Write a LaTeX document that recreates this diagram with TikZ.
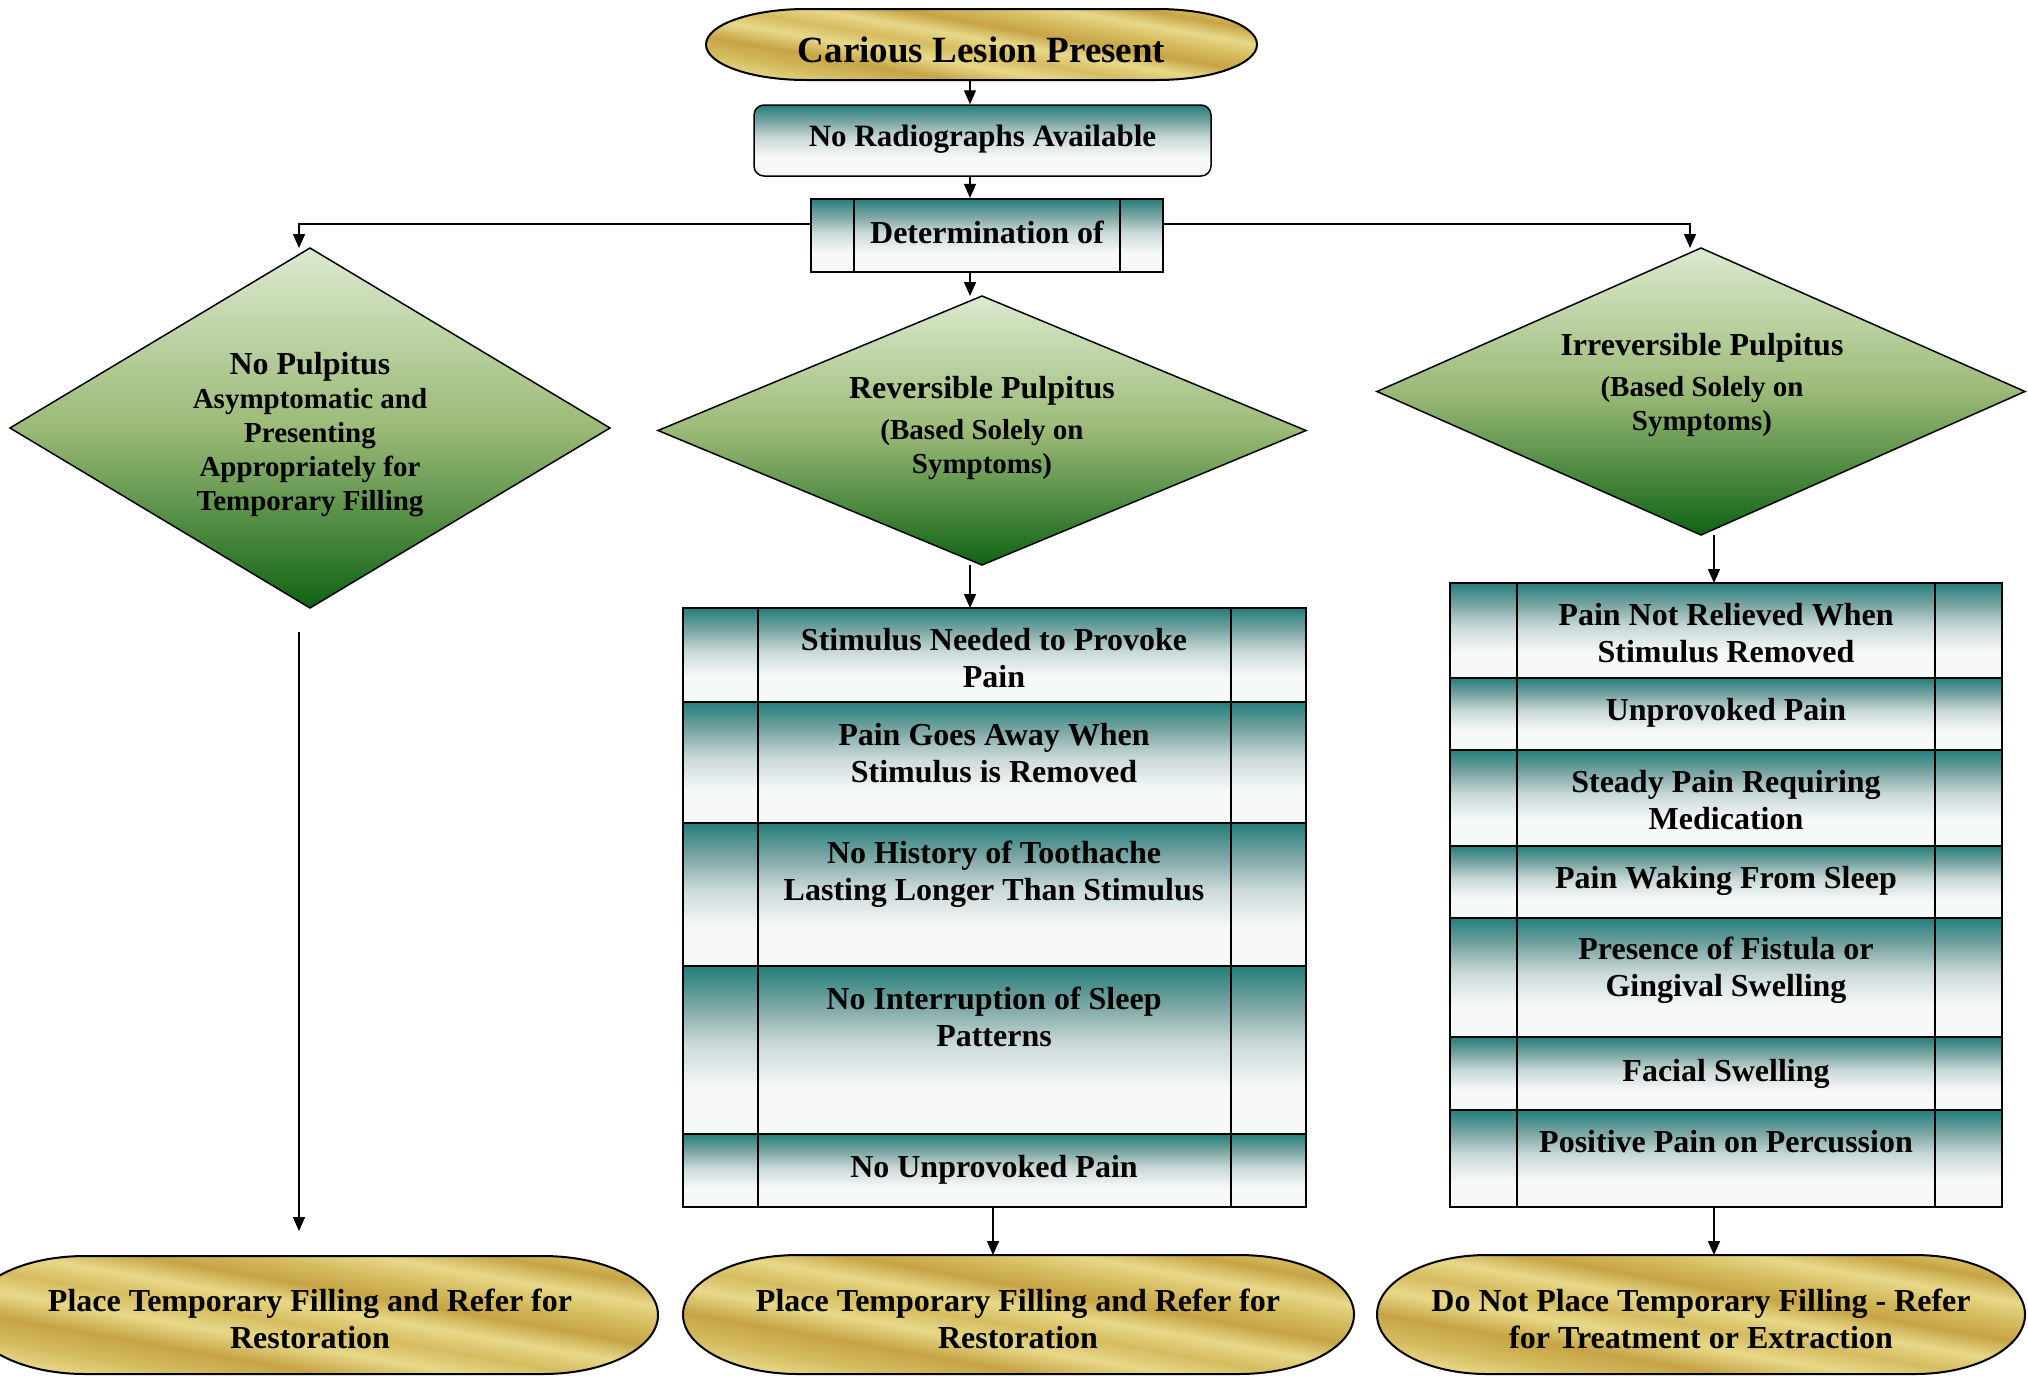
\documentclass[tikz,border=0pt]{standalone}
\usepackage{fontspec}
\setmainfont{Liberation Serif}
\usetikzlibrary{arrows.meta,calc}
\definecolor{tealtop}{HTML}{237E7A}
\definecolor{tealmid}{HTML}{7DA7A5}
\definecolor{tealmidb}{HTML}{C9D9D8}
\definecolor{tealbot}{HTML}{F7F9F9}
\definecolor{gtop}{HTML}{DCE9CF}
\definecolor{gmid}{HTML}{9BBA77}
\definecolor{gbot}{HTML}{0F6314}
\definecolor{goldA}{HTML}{C6A445}
\definecolor{goldB}{HTML}{E7D889}
\definecolor{goldC}{HTML}{D5BC60}
\pgfdeclareverticalshading{tealsh}{100bp}{color(0bp)=(tealbot); color(25bp)=(tealbot); color(38bp)=(tealbot); color(52bp)=(tealmidb); color(63bp)=(tealmid); color(75bp)=(tealtop); color(100bp)=(tealtop)}
\pgfdeclareverticalshading{greensh}{100bp}{color(0bp)=(gbot); color(25bp)=(gbot); color(50bp)=(gmid); color(75bp)=(gtop); color(100bp)=(gtop)}
\pgfdeclarehorizontalshading{goldsh}{100bp}{color(0bp)=(goldB); color(25bp)=(goldB); color(30bp)=(goldC); color(36bp)=(goldA); color(42bp)=(goldB); color(47bp)=(goldC); color(52bp)=(goldB); color(57bp)=(goldA); color(62bp)=(goldC); color(67bp)=(goldB); color(72bp)=(goldA); color(75bp)=(goldC); color(100bp)=(goldC)}
\pgfdeclarelayer{bg}
\pgfsetlayers{bg,main}
\newcommand\termshape[3]{%
  \path[draw=black, line width=2pt, shading=goldsh, shading angle=80]
   ($(#1.north west)+(#2,0)$) -- ($(#1.north east)+(-#2,0)$)
   arc[start angle=90, end angle=-90, x radius=#2 pt, y radius=#3 pt]
   -- ($(#1.south west)+(#2,0)$)
   arc[start angle=270, end angle=90, x radius=#2 pt, y radius=#3 pt] -- cycle;}
\newcommand\diashape[1]{%
  \path[draw=black, line width=1.5pt, shading=greensh]
   (#1.north) -- (#1.east) -- (#1.south) -- (#1.west) -- cycle;}
\begin{document}
\begin{tikzpicture}[x=1pt,y=1pt,
  txt/.style={font=\bfseries\fontsize{32}{37}\selectfont, align=center, inner sep=0},
  stxt/.style={font=\bfseries\fontsize{29}{34}\selectfont, align=center, inner sep=0},
  frame/.style={inner sep=0, outer sep=0},
  rowbox/.style={draw=black, line width=2.2pt, shading=tealsh, inner sep=0, outer sep=0, anchor=north west},
  tline/.style={line width=2.2pt},
  arr/.style={-{Triangle[length=14pt,width=12pt]}, line width=1.4pt},
  plain/.style={line width=1.3pt}]
\useasboundingbox (0,0) rectangle (2028,-1376);

% top terminal
\node[frame, minimum width=551pt, minimum height=71pt] (top) at (981.5,-44.5) {};
\node[font=\bfseries\fontsize{37}{42}\selectfont, inner sep=0] (toptxt) at (981.5,-50) {Carious Lesion Present};

% no radiographs
\node[draw=black, line width=1.5pt, rounded corners=10pt, shading=tealsh, minimum width=457pt, minimum height=71pt, inner sep=0] (radio) at (982.5,-140.5) {};
\node[font=\bfseries\fontsize{31}{36}\selectfont, inner sep=0] (radiotxt) at (982.5,-139.5) {No Radiographs Available};

% determination
\node[draw=black, line width=2.2pt, shading=tealsh, minimum width=352pt, minimum height=73pt, inner sep=0] (det) at (987,-235.5) {};
\draw[tline] (854,-199) -- (854,-272);
\draw[tline] (1120,-199) -- (1120,-272);
\node[txt] (dettxt) at (987,-232) {Determination of};

% diamonds
\node[frame, minimum width=600pt, minimum height=360pt] (d1) at (310,-428) {};
\node[frame, minimum width=648pt, minimum height=269pt] (d2) at (982,-430.5) {};
\node[frame, minimum width=648pt, minimum height=287pt] (d3) at (1701,-391.5) {};
\node[stxt] (d1t) at (310,-435) {{\fontsize{32}{37}\selectfont No Pulpitus}\\Asymptomatic and\\Presenting\\Appropriately for\\Temporary Filling};
\node[stxt] (d2t) at (982,-428) {{\fontsize{32}{37}\selectfont Reversible Pulpitus}\\[7pt](Based Solely on\\Symptoms)};
\node[stxt] (d3t) at (1702,-385.5) {{\fontsize{32}{37}\selectfont Irreversible Pulpitus}\\[7pt](Based Solely on\\Symptoms)};

% middle table
\node[rowbox, minimum width=623pt, minimum height=94pt] (m1) at (683,-608) {};
\node[rowbox, minimum width=623pt, minimum height=121pt] (m2) at (683,-702) {};
\node[rowbox, minimum width=623pt, minimum height=143pt] (m3) at (683,-823) {};
\node[rowbox, minimum width=623pt, minimum height=168pt] (m4) at (683,-966) {};
\node[rowbox, minimum width=623pt, minimum height=73pt] (m5) at (683,-1134) {};
\draw[tline] (758,-608) -- (758,-1207);
\draw[tline] (1231,-608) -- (1231,-1207);
\node[txt] (m1t) at (994,-658) {Stimulus Needed to Provoke\\Pain};
\node[txt] (m2t) at (994,-753) {Pain Goes Away When\\Stimulus is Removed};
\node[txt] (m3t) at (994,-874) {No History of Toothache\\Lasting Longer Than Stimulus};
\node[txt] (m4t) at (994,-1017) {No Interruption of Sleep\\Patterns};
\node[txt] (m5t) at (994,-1170) {No Unprovoked Pain};

% right table
\node[rowbox, minimum width=552pt, minimum height=95pt] (r1) at (1450,-583) {};
\node[rowbox, minimum width=552pt, minimum height=72pt] (r2) at (1450,-678) {};
\node[rowbox, minimum width=552pt, minimum height=96pt] (r3) at (1450,-750) {};
\node[rowbox, minimum width=552pt, minimum height=72pt] (r4) at (1450,-846) {};
\node[rowbox, minimum width=552pt, minimum height=119pt] (r5) at (1450,-918) {};
\node[rowbox, minimum width=552pt, minimum height=73pt] (r6) at (1450,-1037) {};
\node[rowbox, minimum width=552pt, minimum height=97pt] (r7) at (1450,-1110) {};
\draw[tline] (1517,-583) -- (1517,-1207);
\draw[tline] (1935,-583) -- (1935,-1207);
\node[txt] (r1t) at (1726,-633) {Pain Not Relieved When\\Stimulus Removed};
\node[txt] (r2t) at (1726,-713) {Unprovoked Pain};
\node[txt] (r3t) at (1726,-800) {Steady Pain Requiring\\Medication};
\node[txt] (r4t) at (1726,-881) {Pain Waking From Sleep};
\node[txt] (r5t) at (1726,-970) {Presence of Fistula or\\Gingival Swelling};
\node[txt] (r6t) at (1726,-1074) {Facial Swelling};
\node[txt] (r7t) at (1726,-1142) {Positive Pain on Percussion};

% bottom terminals
\node[frame, minimum width=688pt, minimum height=118pt] (b1) at (314,-1315) {};
\node[frame, minimum width=671pt, minimum height=119pt] (b2) at (1018.5,-1314.5) {};
\node[frame, minimum width=648pt, minimum height=119pt] (b3) at (1701,-1314.5) {};
\node[txt] (b1t) at (310,-1319) {Place Temporary Filling and Refer for\\Restoration};
\node[txt] (b2t) at (1018,-1319) {Place Temporary Filling and Refer for\\Restoration};
\node[txt] (b3t) at (1701,-1319) {Do Not Place Temporary Filling - Refer\\for Treatment or Extraction};

\begin{pgfonlayer}{bg}
\termshape{top}{100}{35.5}
\termshape{b1}{115}{59}
\termshape{b2}{115}{59.5}
\termshape{b3}{110}{59.5}
\diashape{d1}
\diashape{d2}
\diashape{d3}
\end{pgfonlayer}

% connectors
\coordinate (cx) at (970,0);
\coordinate (hy) at (0,-224);
\coordinate (lx) at (299,0);
\coordinate (rx) at (1690,0);
\coordinate (mx) at (993,0);
\coordinate (qx) at (1714,0);
\draw[arr] (top.south -| cx) -- (radio.north -| cx);
\draw[arr] (radio.south -| cx) -- (det.north -| cx);
\draw[arr] (det.south -| cx) -- (d2.north -| cx);
\draw[arr] (det.west |- hy) -| (d1.north -| lx);
\draw[arr] (det.east |- hy) -| (d3.north -| rx);
\draw[arr] (d2.south -| cx) -- (m1.north -| cx);
\draw[arr, shorten <=24pt, shorten >=25pt] (d1.south -| lx) -- (b1.north -| lx);
\draw[arr] (d3.south -| qx) -- (r1.north -| qx);
\draw[arr] (m5.south -| mx) -- (b2.north -| mx);
\draw[arr] (r7.south -| qx) -- (b3.north -| qx);
\end{tikzpicture}
\end{document}
